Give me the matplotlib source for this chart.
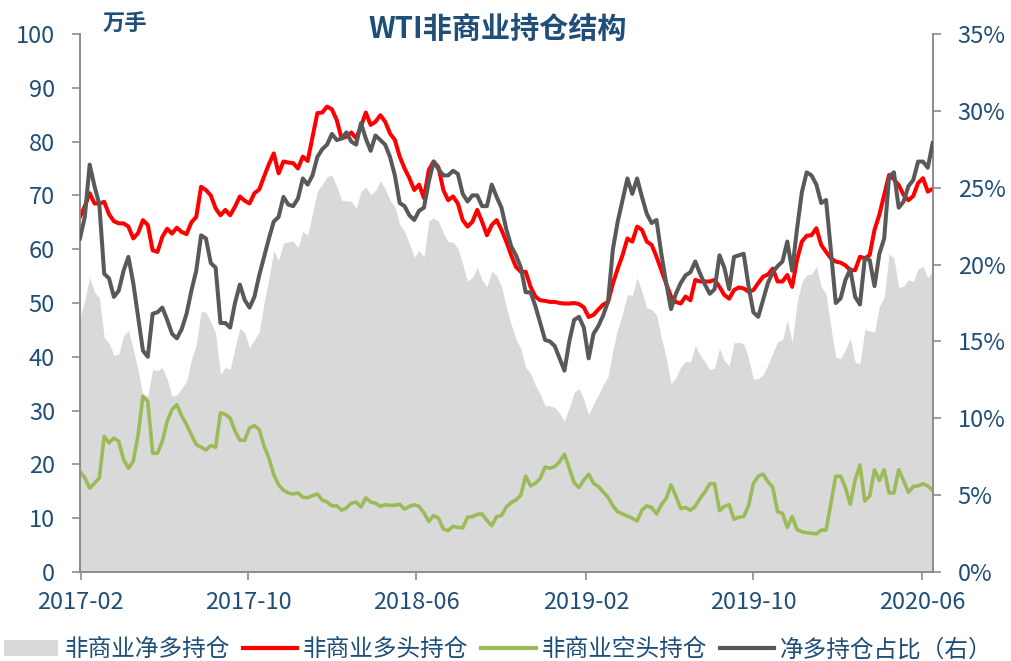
import pandas as pd
import numpy as np
import matplotlib
matplotlib.use('Agg')
import matplotlib.pyplot as plt
import matplotlib.dates as mdates
from matplotlib.ticker import FuncFormatter, MultipleLocator
from matplotlib.patches import Patch
from matplotlib.lines import Line2D

plt.rcParams['font.family'] = ['Noto Sans CJK SC', 'DejaVu Sans']

# weekly CFTC data, first report 2017-01-31
start_date = '2017-01-31'

# non-commercial long (10k lots)
long_pos = [66, 68, 70.4, 68.5, 68.5, 68.8, 66.5, 65.2, 64.8, 64.8,
            64.2, 62, 63, 65.4, 64.5, 59.8, 59.5, 62.3, 63.8, 62.9,
            64, 63.2, 62.8, 65, 66, 71.6, 71, 70, 67.6, 66.3,
            67.3, 66.3, 67.9, 69.8, 69, 68.5, 70.4, 71.1, 73.5, 75.8,
            77.8, 74.1, 76.3, 76.1, 76, 75, 77.2, 76.4, 80.9, 85.3,
            85.4, 86.5, 86, 84, 80.6, 80.9, 81.7, 80.6, 82.8, 85.4,
            83.1, 83.7, 84.9, 83.7, 81.5, 80.3, 77.2, 75, 73.2, 71,
            72, 69.5, 74.7, 76.3, 75.2, 71, 69.1, 69.8, 68.5, 65.4,
            64.2, 65.1, 67.3, 65.1, 62.6, 64.5, 65.4, 63.6, 61.4, 58.9,
            56.7, 55.8, 55.8, 53, 51.2, 50.5, 50.4, 50.2, 50.2, 50,
            49.9, 49.9, 50, 49.8, 49.2, 47.4, 47.8, 48.8, 49.7, 50.2,
            53.6, 56.4, 58.9, 62, 61.4, 64.2, 63.6, 61.4, 60.8, 58.6,
            56.1, 53.6, 51.2, 50.2, 49.9, 51.2, 50.5, 54.3, 54, 54,
            54, 54.3, 53, 51.5, 50.8, 52.4, 52.9, 52.7, 52.1, 52.4,
            53.7, 54.9, 55.3, 56.4, 54, 54, 55.2, 53, 58, 61.4,
            62.5, 62.6, 63.9, 60.8, 59.5, 58.3, 57.7, 57.5, 57, 56.1,
            56.1, 58.6, 58.3, 58.9, 63.6, 66.4, 70.1, 73.8, 73, 71.9,
            70.1, 69.1, 69.9, 72.3, 73.2, 70.7, 71.2]

# non-commercial short (10k lots)
short_pos = [18.7, 17.5, 15.6, 16.5, 17.5, 25.2, 24, 24.9, 24.3, 20.9,
             19.3, 20.6, 25.5, 32.7, 31.7, 22.1, 22.1, 24.3, 28, 30.2,
             31.1, 29, 27.4, 25.5, 23.7, 23.2, 22.7, 23.5, 23.2, 29.6,
             29.3, 28.6, 26.2, 24.5, 24.5, 26.8, 27.2, 26.5, 23.4, 21.2,
             18.1, 16.2, 15.2, 14.7, 14.5, 14.7, 13.9, 13.8, 14.2, 14.5,
             13.4, 13, 12.3, 12.3, 11.5, 11.9, 12.8, 13, 12.1, 13.8,
             13, 12.8, 12.2, 12.5, 12.4, 12.4, 12.6, 11.7, 12.2, 12.5,
             12.2, 11, 9.4, 10.5, 10, 8, 7.7, 8.5, 8.3, 8.2,
             10.2, 10.3, 10.7, 10.8, 9.6, 8.6, 10.3, 10.5, 12.1, 12.9,
             13.4, 14.3, 17.8, 16, 16.5, 17.4, 19.5, 19.3, 19.6, 20.5,
             21.9, 19.3, 16.6, 15.7, 17.1, 18.2, 16.5, 15.9, 14.9, 13.9,
             12.3, 11.2, 10.8, 10.4, 10, 9.5, 11.5, 12.3, 12, 10.8,
             12.5, 13.7, 16.2, 14.1, 11.8, 12, 11.5, 12.2, 13.7, 14.9,
             16.4, 16.4, 11.4, 12.2, 12.5, 9.8, 10.2, 10.3, 12.3, 16.5,
             17.8, 18.2, 16.8, 15.7, 11.2, 10.9, 8.3, 10.3, 7.9, 7.5,
             7.3, 7.2, 7.1, 7.8, 7.8, 12.8, 17.8, 17.8, 15.7, 12.6,
             17.1, 19.9, 13.2, 14.1, 19, 17, 19, 14.7, 14.7, 19,
             17, 14.8, 15.9, 16, 16.4, 16, 15.2]

# non-commercial net long (10k lots)
net_long = [47.3, 50.5, 54.8, 52, 51, 43.6, 42.5, 40.3, 40.5, 43.9,
            44.9, 41.4, 37.5, 32.7, 32.8, 37.7, 37.4, 38, 35.8, 32.7,
            32.9, 34.2, 35.4, 39.5, 42.3, 48.4, 48.3, 46.5, 44.4, 36.7,
            38, 37.7, 41.7, 45.3, 44.5, 41.7, 43.2, 44.6, 50.1, 54.6,
            59.7, 57.9, 61.1, 61.4, 61.5, 60.3, 63.3, 62.6, 66.7, 70.8,
            72, 73.5, 73.7, 71.7, 69.1, 69, 68.9, 67.6, 70.7, 71.6,
            70.1, 70.9, 72.7, 71.2, 69.1, 67.9, 64.6, 63.3, 61, 58.5,
            59.8, 58.5, 65.3, 65.8, 65.2, 63, 61.4, 61.3, 60.2, 57.2,
            54, 54.8, 56.6, 54.3, 53, 55.9, 55.1, 53.1, 49.3, 46,
            43.3, 41.5, 38, 37, 34.7, 33.1, 30.9, 30.9, 30.6, 29.5,
            28, 30.6, 33.4, 34.1, 32.1, 29.2, 31.3, 32.9, 34.8, 36.3,
            41.3, 45.2, 48.1, 51.6, 51.4, 54.7, 52.1, 49.1, 48.8, 47.8,
            43.6, 39.9, 35, 36.1, 38.1, 39.2, 39, 42.1, 40.3, 39.1,
            37.6, 37.9, 41.6, 39.3, 38.3, 42.6, 42.7, 42.4, 39.8, 35.9,
            35.9, 36.7, 38.5, 40.7, 42.8, 43.1, 46.9, 42.7, 50.1, 53.9,
            55.2, 55.4, 56.8, 53, 51.7, 45.5, 39.9, 39.7, 41.3, 43.5,
            39, 38.7, 45.1, 44.8, 44.6, 49.4, 51.1, 59.1, 58.3, 52.9,
            53.1, 54.3, 54, 56.3, 56.8, 54.7, 56]

# net long as share of open interest (%)
net_ratio = [21.7, 23.1, 26.5, 25.1, 23.9, 19.4, 19.1, 17.9, 18.3, 19.6,
             20.5, 18.8, 16.6, 14.4, 14.0, 16.8, 16.9, 17.2, 16.4, 15.5,
             15.2, 15.8, 16.8, 18.3, 19.6, 21.9, 21.7, 20.1, 19.8, 16.2,
             16.2, 15.9, 17.5, 18.7, 17.7, 17.2, 17.9, 19.3, 20.5, 21.7,
             22.8, 23.1, 24.4, 23.9, 23.8, 24.3, 25.6, 25.2, 25.8, 27.0,
             27.5, 27.8, 28.5, 28.1, 28.2, 28.6, 28.0, 27.8, 29.2, 28.2,
             27.4, 28.4, 28.1, 27.8, 27.0, 25.8, 24.0, 23.8, 23.2, 22.9,
             23.5, 23.7, 25.4, 26.7, 26.2, 25.8, 25.8, 26.1, 25.9, 24.6,
             24.1, 24.5, 24.5, 23.8, 23.8, 25.2, 24.4, 23.7, 22.3, 21.2,
             20.6, 19.8, 18.2, 18.2, 17.3, 16.2, 15.1, 15.0, 14.7, 13.9,
             13.1, 15.0, 16.4, 16.6, 15.9, 13.9, 15.5, 16.0, 16.7, 17.6,
             21.0, 22.8, 24.2, 25.6, 24.6, 25.6, 24.4, 23.3, 22.7, 22.9,
             20.7, 18.8, 17.1, 18.1, 18.8, 19.3, 19.5, 20.2, 19.4, 18.7,
             18.1, 18.4, 20.6, 19.8, 18.4, 20.5, 20.6, 20.7, 18.6, 16.9,
             16.6, 17.7, 18.8, 19.5, 19.9, 20.2, 21.5, 19.6, 22.3, 24.7,
             26.0, 25.8, 25.2, 24.0, 24.2, 20.9, 17.5, 17.8, 19.0, 19.7,
             17.9, 17.4, 20.4, 20.3, 18.6, 20.7, 21.7, 25.7, 26.0, 23.7,
             24.1, 25.1, 25.5, 26.7, 26.7, 26.3, 27.9]

tick_labels = ['2017-02', '2017-10', '2018-06', '2019-02', '2019-10', '2020-06']
legend_labels = ['非商业净多持仓', '非商业多头持仓', '非商业空头持仓', '净多持仓占比（右）']

dates = pd.date_range(start_date, periods=len(long_pos), freq='7D')

txt = '#1F4E79'
axc = '#8C8C8C'
c_area, c_long, c_short, c_ratio = '#D9D9D9', '#FF0000', '#9BBB59', '#595959'

fig = plt.figure(figsize=(10.11, 6.61), dpi=100)
ax = fig.add_axes([0.0791, 0.1346, 0.8434, 0.814])
ax2 = ax.twinx()

ax.fill_between(dates, 0, net_long, color=c_area, lw=0, zorder=1)
ax.plot(dates, long_pos, color=c_long, lw=2.9, zorder=3, solid_joinstyle='round')
ax.plot(dates, short_pos, color=c_short, lw=2.6, zorder=3, solid_joinstyle='round')
ax2.plot(dates, net_ratio, color=c_ratio, lw=2.9, zorder=4, solid_joinstyle='round')

ax.set_ylim(0, 100)
ax.yaxis.set_major_locator(MultipleLocator(10))
ax2.set_ylim(0, 35)
ax2.yaxis.set_major_locator(MultipleLocator(5))
ax2.yaxis.set_major_formatter(FuncFormatter(lambda v, p: '%d%%' % v))

ax.set_xlim(dates[0], dates[-1])
tick_pos = pd.to_datetime([t + '-01' for t in tick_labels])
ax.set_xticks(tick_pos)
ax.set_xticklabels(tick_labels)

for a in (ax, ax2):
    a.spines['top'].set_visible(False)
    for s in ('left', 'right', 'bottom'):
        a.spines[s].set_color(axc)
        a.spines[s].set_linewidth(1.2)
    a.tick_params(colors=axc, labelcolor=txt, labelsize=17, length=6, width=1.2, direction='out')
ax.tick_params(axis='y', pad=12)
ax2.tick_params(axis='y', pad=12)
ax.tick_params(axis='x', pad=8)

fig.text(0.492, 0.956, 'WTI非商业持仓结构', ha='center', va='center',
         fontsize=21, fontweight='bold', color=txt)
fig.text(0.124, 0.963, '万手', ha='center', va='center',
         fontsize=16, fontweight='bold', color=txt)

handles = [Patch(facecolor=c_area, edgecolor='none'),
           Line2D([], [], color=c_long, lw=3),
           Line2D([], [], color=c_short, lw=3),
           Line2D([], [], color=c_ratio, lw=3)]
leg = fig.legend(handles, legend_labels, loc='center', bbox_to_anchor=(0.493, 0.017),
                 ncol=4, frameon=False, fontsize=17, handlelength=2.3,
                 handletextpad=0.25, columnspacing=0.55, borderaxespad=0)
for t in leg.get_texts():
    t.set_color(txt)

fig.savefig('out.png', dpi=100)
